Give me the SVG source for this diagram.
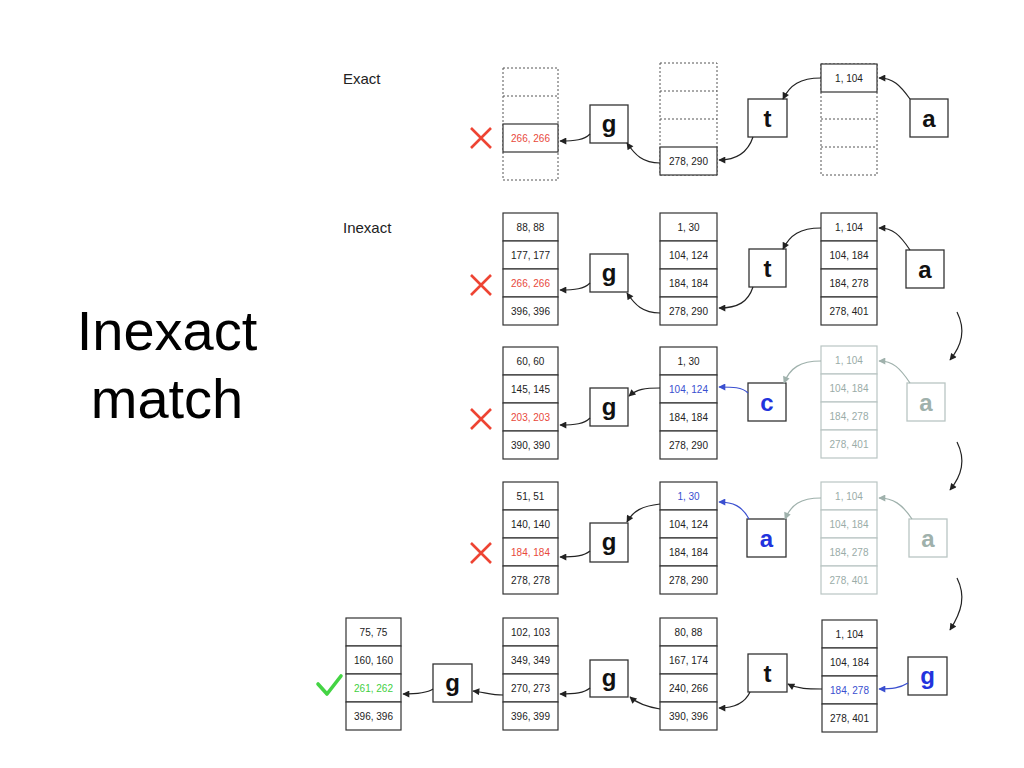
<svg xmlns="http://www.w3.org/2000/svg" width="1024" height="768" viewBox="0 0 1024 768">
<defs>
<style>
.cell{fill:#fff;stroke:#333;stroke-width:1.2}
.fcell{fill:#fff;stroke:#b9c5c3;stroke-width:1.2}
.dot{fill:none;stroke:#555;stroke-width:1;stroke-dasharray:2 2}
.num{font-family:"Liberation Sans",Arial,sans-serif;font-size:10px;text-anchor:middle;fill:#222}
.fnum{fill:#9aaca8}
.red{fill:#e8493b}
.blue{fill:#3a4fd0}
.green{fill:#3fcf3f}
.box{fill:#fff;stroke:#333;stroke-width:1.3}
.fbox{fill:#fff;stroke:#b9c5c3;stroke-width:1.3}
.let{font-family:"Liberation Sans",Arial,sans-serif;font-size:24px;font-weight:bold;text-anchor:middle;fill:#111}
.flet{fill:#9fb1ac}
.blet{fill:#2233dd}
.lbl{font-family:"Liberation Sans",Arial,sans-serif;font-size:15px;fill:#222}
.title{font-family:"Liberation Sans",Arial,sans-serif;font-size:56px;text-anchor:middle;fill:#000}
.c{fill:none;stroke:#222;stroke-width:1.2;marker-end:url(#ab)}
.cb{fill:none;stroke:#3a4fd0;stroke-width:1.2;marker-end:url(#abl)}
.cg{fill:none;stroke:#9fb1ac;stroke-width:1.2;marker-end:url(#agr)}
.x{stroke:#ee4433;stroke-width:2.6;fill:none}
</style>
<marker id="ab" viewBox="0 0 10 10" refX="9" refY="5" markerWidth="9" markerHeight="7" orient="auto" markerUnits="userSpaceOnUse"><path d="M0,0 L10,5 L0,10 z" fill="#222"/></marker>
<marker id="abl" viewBox="0 0 10 10" refX="9" refY="5" markerWidth="9" markerHeight="7" orient="auto" markerUnits="userSpaceOnUse"><path d="M0,0 L10,5 L0,10 z" fill="#3a4fd0"/></marker>
<marker id="agr" viewBox="0 0 10 10" refX="9" refY="5" markerWidth="9" markerHeight="7" orient="auto" markerUnits="userSpaceOnUse"><path d="M0,0 L10,5 L0,10 z" fill="#9fb1ac"/></marker>
</defs>
<rect width="1024" height="768" fill="#fff"/>

<text class="title" x="167" y="350">Inexact</text>
<text class="title" x="167" y="418">match</text>
<text class="lbl" x="343" y="84">Exact</text>
<text class="lbl" x="343" y="233">Inexact</text>

<!-- Row 0 (Exact) -->
<g id="r0-colB" transform="translate(503,68)">
<rect class="dot" x="0" y="0" width="55" height="112"/>
<line class="dot" x1="0" y1="28" x2="55" y2="28"/>
<rect class="cell" x="0" y="56" width="55" height="28"/>
<text class="num red" x="27.5" y="73.5">266, 266</text>
</g>
<g id="r0-colC" transform="translate(660,63)">
<rect class="dot" x="0" y="0" width="57" height="112"/>
<line class="dot" x1="0" y1="28" x2="57" y2="28"/>
<line class="dot" x1="0" y1="56" x2="57" y2="56"/>
<rect class="cell" x="0" y="84" width="57" height="28"/>
<text class="num" x="28.5" y="101.5">278, 290</text>
</g>
<g id="r0-colD" transform="translate(821,64)">
<rect class="dot" x="0" y="0" width="56" height="111"/>
<line class="dot" x1="0" y1="55" x2="56" y2="55"/>
<line class="dot" x1="0" y1="83" x2="56" y2="83"/>
<rect class="cell" x="0" y="0" width="56" height="28"/>
<text class="num" x="28" y="17.5">1, 104</text>
</g>
<g id="r0-g"><rect class="box" x="590" y="105" width="38" height="38"/><text class="let" x="609" y="132">g</text></g>
<g id="r0-t"><rect class="box" x="748" y="99" width="39" height="38"/><text class="let" x="767.5" y="127">t</text></g>
<g id="r0-a"><rect class="box" x="910" y="99" width="38" height="38"/><text class="let" x="929" y="127">a</text></g>
<g id="r0-x"><path class="x" d="M471,128 L491,148 M491,128 L471,148"/></g>

<!-- Row 1 -->
<g id="r1-colB" transform="translate(503,213)">
<rect class="cell" x="0" y="0" width="55" height="28"/><rect class="cell" x="0" y="28" width="55" height="28"/><rect class="cell" x="0" y="56" width="55" height="28"/><rect class="cell" x="0" y="84" width="55" height="28"/>
<text class="num" x="27.5" y="17.5">88, 88</text><text class="num" x="27.5" y="45.5">177, 177</text><text class="num red" x="27.5" y="73.5">266, 266</text><text class="num" x="27.5" y="101.5">396, 396</text>
</g>
<g id="r1-colC" transform="translate(660,213)">
<rect class="cell" x="0" y="0" width="57" height="28"/><rect class="cell" x="0" y="28" width="57" height="28"/><rect class="cell" x="0" y="56" width="57" height="28"/><rect class="cell" x="0" y="84" width="57" height="28"/>
<text class="num" x="28.5" y="17.5">1, 30</text><text class="num" x="28.5" y="45.5">104, 124</text><text class="num" x="28.5" y="73.5">184, 184</text><text class="num" x="28.5" y="101.5">278, 290</text>
</g>
<g id="r1-colD" transform="translate(821,213)">
<rect class="cell" x="0" y="0" width="56" height="28"/><rect class="cell" x="0" y="28" width="56" height="28"/><rect class="cell" x="0" y="56" width="56" height="28"/><rect class="cell" x="0" y="84" width="56" height="28"/>
<text class="num" x="28" y="17.5">1, 104</text><text class="num" x="28" y="45.5">104, 184</text><text class="num" x="28" y="73.5">184, 278</text><text class="num" x="28" y="101.5">278, 401</text>
</g>
<g id="r1-g"><rect class="box" x="590" y="254" width="38" height="38"/><text class="let" x="609" y="281">g</text></g>
<g id="r1-t"><rect class="box" x="749" y="249" width="37" height="38"/><text class="let" x="767.5" y="277">t</text></g>
<g id="r1-a"><rect class="box" x="906" y="250" width="38" height="38"/><text class="let" x="925" y="278">a</text></g>
<g id="r1-x"><path class="x" d="M471,275 L491,295 M491,275 L471,295"/></g>

<!-- Row 2 -->
<g id="r2-colB" transform="translate(503,347)">
<rect class="cell" x="0" y="0" width="55" height="28"/><rect class="cell" x="0" y="28" width="55" height="28"/><rect class="cell" x="0" y="56" width="55" height="28"/><rect class="cell" x="0" y="84" width="55" height="28"/>
<text class="num" x="27.5" y="17.5">60, 60</text><text class="num" x="27.5" y="45.5">145, 145</text><text class="num red" x="27.5" y="73.5">203, 203</text><text class="num" x="27.5" y="101.5">390, 390</text>
</g>
<g id="r2-colC" transform="translate(660,347)">
<rect class="cell" x="0" y="0" width="57" height="28"/><rect class="cell" x="0" y="28" width="57" height="28"/><rect class="cell" x="0" y="56" width="57" height="28"/><rect class="cell" x="0" y="84" width="57" height="28"/>
<text class="num" x="28.5" y="17.5">1, 30</text><text class="num blue" x="28.5" y="45.5">104, 124</text><text class="num" x="28.5" y="73.5">184, 184</text><text class="num" x="28.5" y="101.5">278, 290</text>
</g>
<g id="r2-colD" transform="translate(821,346)">
<rect class="fcell" x="0" y="0" width="56" height="28"/><rect class="fcell" x="0" y="28" width="56" height="28"/><rect class="fcell" x="0" y="56" width="56" height="28"/><rect class="fcell" x="0" y="84" width="56" height="28"/>
<text class="num fnum" x="28" y="17.5">1, 104</text><text class="num fnum" x="28" y="45.5">104, 184</text><text class="num fnum" x="28" y="73.5">184, 278</text><text class="num fnum" x="28" y="101.5">278, 401</text>
</g>
<g id="r2-g"><rect class="box" x="590" y="388" width="38" height="38"/><text class="let" x="609" y="415">g</text></g>
<g id="r2-c"><rect class="box" x="748" y="383" width="38" height="38"/><text class="let blet" x="767" y="411">c</text></g>
<g id="r2-a"><rect class="fbox" x="907" y="383" width="38" height="38"/><text class="let flet" x="926" y="411">a</text></g>
<g id="r2-x"><path class="x" d="M471,409 L491,429 M491,409 L471,429"/></g>

<!-- Row 3 -->
<g id="r3-colB" transform="translate(503,482)">
<rect class="cell" x="0" y="0" width="55" height="28"/><rect class="cell" x="0" y="28" width="55" height="28"/><rect class="cell" x="0" y="56" width="55" height="28"/><rect class="cell" x="0" y="84" width="55" height="28"/>
<text class="num" x="27.5" y="17.5">51, 51</text><text class="num" x="27.5" y="45.5">140, 140</text><text class="num red" x="27.5" y="73.5">184, 184</text><text class="num" x="27.5" y="101.5">278, 278</text>
</g>
<g id="r3-colC" transform="translate(660,482)">
<rect class="cell" x="0" y="0" width="57" height="28"/><rect class="cell" x="0" y="28" width="57" height="28"/><rect class="cell" x="0" y="56" width="57" height="28"/><rect class="cell" x="0" y="84" width="57" height="28"/>
<text class="num blue" x="28.5" y="17.5">1, 30</text><text class="num" x="28.5" y="45.5">104, 124</text><text class="num" x="28.5" y="73.5">184, 184</text><text class="num" x="28.5" y="101.5">278, 290</text>
</g>
<g id="r3-colD" transform="translate(821,482)">
<rect class="fcell" x="0" y="0" width="56" height="28"/><rect class="fcell" x="0" y="28" width="56" height="28"/><rect class="fcell" x="0" y="56" width="56" height="28"/><rect class="fcell" x="0" y="84" width="56" height="28"/>
<text class="num fnum" x="28" y="17.5">1, 104</text><text class="num fnum" x="28" y="45.5">104, 184</text><text class="num fnum" x="28" y="73.5">184, 278</text><text class="num fnum" x="28" y="101.5">278, 401</text>
</g>
<g id="r3-g"><rect class="box" x="590" y="523" width="38" height="39"/><text class="let" x="609" y="550">g</text></g>
<g id="r3-a"><rect class="box" x="747" y="519" width="39" height="38"/><text class="let blet" x="766.5" y="547">a</text></g>
<g id="r3-af"><rect class="fbox" x="909" y="519" width="38" height="38"/><text class="let flet" x="928" y="547">a</text></g>
<g id="r3-x"><path class="x" d="M471,543 L491,563 M491,543 L471,563"/></g>

<!-- Row 4 -->
<g id="r4-colA" transform="translate(346,618)">
<rect class="cell" x="0" y="0" width="55" height="28"/><rect class="cell" x="0" y="28" width="55" height="28"/><rect class="cell" x="0" y="56" width="55" height="28"/><rect class="cell" x="0" y="84" width="55" height="28"/>
<text class="num" x="27.5" y="17.5">75, 75</text><text class="num" x="27.5" y="45.5">160, 160</text><text class="num green" x="27.5" y="73.5">261, 262</text><text class="num" x="27.5" y="101.5">396, 396</text>
</g>
<g id="r4-colB" transform="translate(503,618)">
<rect class="cell" x="0" y="0" width="55" height="28"/><rect class="cell" x="0" y="28" width="55" height="28"/><rect class="cell" x="0" y="56" width="55" height="28"/><rect class="cell" x="0" y="84" width="55" height="28"/>
<text class="num" x="27.5" y="17.5">102, 103</text><text class="num" x="27.5" y="45.5">349, 349</text><text class="num" x="27.5" y="73.5">270, 273</text><text class="num" x="27.5" y="101.5">396, 399</text>
</g>
<g id="r4-colC" transform="translate(660,618)">
<rect class="cell" x="0" y="0" width="57" height="28"/><rect class="cell" x="0" y="28" width="57" height="28"/><rect class="cell" x="0" y="56" width="57" height="28"/><rect class="cell" x="0" y="84" width="57" height="28"/>
<text class="num" x="28.5" y="17.5">80, 88</text><text class="num" x="28.5" y="45.5">167, 174</text><text class="num" x="28.5" y="73.5">240, 266</text><text class="num" x="28.5" y="101.5">390, 396</text>
</g>
<g id="r4-colD" transform="translate(822,620)">
<rect class="cell" x="0" y="0" width="55" height="28"/><rect class="cell" x="0" y="28" width="55" height="28"/><rect class="cell" x="0" y="56" width="55" height="28"/><rect class="cell" x="0" y="84" width="55" height="28"/>
<text class="num" x="27.5" y="17.5">1, 104</text><text class="num" x="27.5" y="45.5">104, 184</text><text class="num blue" x="27.5" y="73.5">184, 278</text><text class="num" x="27.5" y="101.5">278, 401</text>
</g>
<g id="r4-g1"><rect class="box" x="433" y="664" width="39" height="38"/><text class="let" x="452.5" y="691">g</text></g>
<g id="r4-g2"><rect class="box" x="590" y="660" width="38" height="37"/><text class="let" x="609" y="686">g</text></g>
<g id="r4-t"><rect class="box" x="748" y="654" width="39" height="38"/><text class="let" x="767.5" y="682">t</text></g>
<g id="r4-g3"><rect class="box" x="908" y="657" width="39" height="38"/><text class="let blet" x="927.5" y="684">g</text></g>
<g id="r4-check"><path d="M318,684 L327,694 L341,676" fill="none" stroke="#44d444" stroke-width="3.6" stroke-linecap="round" stroke-linejoin="round"/></g>

<!-- Connectors -->
<g id="connectors">
<path class="c" d="M910,99 C900,85 893,78 879,78"/>
<path class="c" d="M821,78 C800,78 790,85 783,99"/>
<path class="c" d="M753,137 C748,152 738,160 719,160"/>
<path class="c" d="M660,163 C643,163 635,155 627,143"/>
<path class="c" d="M590,134 C584,140 575,141 560,141"/>

<path class="c" d="M910,250 C900,235 893,228 879,228"/>
<path class="c" d="M821,228 C800,228 790,235 783,249"/>
<path class="c" d="M753,287 C748,302 738,308 719,308"/>
<path class="c" d="M660,313 C643,313 635,305 627,293"/>
<path class="c" d="M590,283 C584,289 575,290 560,290"/>

<path class="cg" d="M910,383 C900,368 893,361 879,361"/>
<path class="cg" d="M821,361 C800,361 790,368 784,383"/>
<path class="cb" d="M748,393 C742,387 733,387 719,387"/>
<path class="c" d="M660,388 C645,388 637,389 629,396"/>
<path class="c" d="M590,418 C584,424 575,425 560,425"/>

<path class="cg" d="M912,519 C902,504 893,498 879,498"/>
<path class="cg" d="M821,498 C800,498 791,505 785,519"/>
<path class="cb" d="M749,519 C742,506 733,502 719,502"/>
<path class="c" d="M660,504 C642,506 633,511 627,522"/>
<path class="c" d="M590,551 C584,556 575,557 560,557"/>

<path class="cb" d="M908,683 C900,688 892,689 879,689"/>
<path class="c" d="M822,689 C808,689 798,689 788,684"/>
<path class="c" d="M750,692 C745,703 735,708 719,708"/>
<path class="c" d="M660,709 C648,707 638,704 630,697"/>
<path class="c" d="M590,688 C584,693 575,694 560,694"/>
<path class="c" d="M503,695 C492,695 483,692 473,691"/>
<path class="c" d="M433,689 C427,693 418,694 403,694"/>

<path class="c" d="M957,312 C966,330 962,345 950,360"/>
<path class="c" d="M957,442 C966,460 962,475 950,490"/>
<path class="c" d="M957,578 C966,596 962,611 950,630"/>
</g>
</svg>
